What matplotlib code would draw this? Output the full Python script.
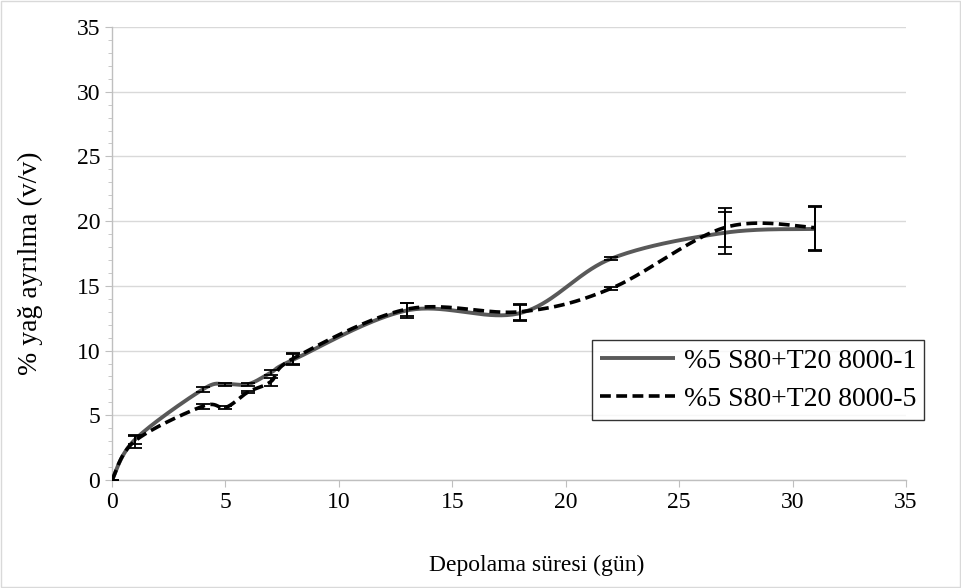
import numpy as np
import matplotlib
matplotlib.use("Agg")
import matplotlib.pyplot as plt
from matplotlib.ticker import MultipleLocator

days = [0, 1, 4, 5, 6, 7, 8, 13, 18, 22, 27, 31]
s1 = [0, 3.1, 7.0, 7.4, 7.4, 8.3, 9.3, 13.1, 12.9, 17.1, 19.1, 19.4]
s2 = [0, 3.0, 5.7, 5.6, 6.8, 7.6, 9.4, 13.2, 13.0, 14.8, 19.5, 19.5]
e1 = [0, 0.3, 0.2, 0.1, 0.1, 0.2, 0.4, 0.6, 0.6, 0.1, 1.6, 1.7]
e2 = [0, 0.5, 0.2, 0.1, 0.1, 0.3, 0.4, 0.5, 0.6, 0.1, 1.5, 1.7]
label1 = "%5 S80+T20 8000-1"
label2 = "%5 S80+T20 8000-5"


def smooth(x, y, n=40):
    # Catmull-Rom style smoothing similar to spreadsheet smoothed lines
    x = np.asarray(x, float)
    y = np.asarray(y, float)
    px = np.concatenate([[x[0]], x, [x[-1]]])
    py = np.concatenate([[y[0]], y, [y[-1]]])
    xs, ys = [], []
    t = np.linspace(0, 1, n)
    for i in range(1, len(px) - 2):
        p0 = np.array([px[i - 1], py[i - 1]])
        p1 = np.array([px[i], py[i]])
        p2 = np.array([px[i + 1], py[i + 1]])
        p3 = np.array([px[i + 2], py[i + 2]])
        c1 = p1 + (p2 - p0) / 6
        c2 = p2 - (p3 - p1) / 6
        for tt in t:
            b = ((1 - tt) ** 3) * p1 + 3 * ((1 - tt) ** 2) * tt * c1 + 3 * (1 - tt) * tt ** 2 * c2 + tt ** 3 * p2
            xs.append(b[0])
            ys.append(b[1])
    return np.array(xs), np.array(ys)


plt.rcParams['font.family'] = ['Liberation Serif', 'DejaVu Serif']

fig = plt.figure(figsize=(9.62, 5.88), dpi=100)
ax = fig.add_axes([112 / 962, 1 - 480 / 588, (906 - 112) / 962, (480 - 27) / 588])

fig.patches.append(matplotlib.patches.Rectangle((0.001, 0.001), 0.997, 0.997, transform=fig.transFigure,
                                                fill=False, edgecolor='#d9d9d9', linewidth=1))

sx1, sy1 = smooth(days, s1)
sx2, sy2 = smooth(days, s2)
ax.plot(sx1, sy1, color='#595959', linewidth=2.8, label=label1, zorder=3, solid_capstyle='butt')
ax.plot(sx2, sy2, color='black', linewidth=2.6, linestyle=(0, (3, 1.5)), label=label2, zorder=4)

ax.errorbar(days, s1, yerr=e1, fmt='none', ecolor='black', elinewidth=1.3, capsize=5, capthick=1.3, zorder=5)
ax.errorbar(days, s2, yerr=e2, fmt='none', ecolor='black', elinewidth=1.3, capsize=5, capthick=1.3, zorder=5)

ax.set_xlim(0, 35)
ax.set_ylim(0, 35)
ax.xaxis.set_major_locator(MultipleLocator(5))
ax.yaxis.set_major_locator(MultipleLocator(5))
ax.yaxis.set_minor_locator(MultipleLocator(1))
ax.grid(axis='y', which='major', color='#d9d9d9', linewidth=1)
ax.set_axisbelow(True)
for s in ['top', 'right']:
    ax.spines[s].set_visible(False)
for s in ['left', 'bottom']:
    ax.spines[s].set_color('#bfbfbf')
    ax.spines[s].set_linewidth(1)
ax.tick_params(axis='both', which='major', length=5, color='#bfbfbf', labelsize=17, labelcolor='black', direction='out')
ax.tick_params(axis='y', which='minor', length=3, color='#bfbfbf', direction='out')
ax.tick_params(axis='x', which='minor', length=0)

ax.set_xlabel('Depolama süresi (gün)', fontsize=17, va='center', ha='center')
ax.xaxis.set_label_coords((537 - 112) / 794, (480 - 565) / 453)
ax.set_ylabel('% yağ ayrılma (v/v)', fontsize=20, va='center', ha='center')
ax.yaxis.set_label_coords((30 - 112) / 794, 1 - (263 - 27) / 453)

leg = ax.legend(loc='upper left', bbox_to_anchor=((592 - 112) / 794, 1 - (340 - 27) / 453),
                fontsize=20, frameon=True, fancybox=False, edgecolor='black', handlelength=2.7,
                borderpad=0.3, labelspacing=0.45, handletextpad=0.3, borderaxespad=0)
leg.get_frame().set_linewidth(1)

fig.savefig('out.png', dpi=100)
